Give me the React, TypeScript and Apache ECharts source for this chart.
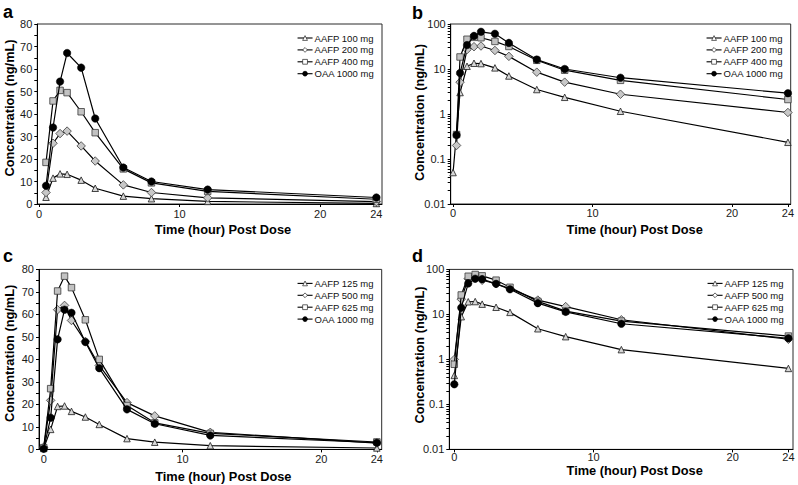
import React, { useEffect, useRef } from 'react';
import * as echarts from 'echarts';

// ---------- Study 1 (panels a & b), hours post dose ----------
const hoursStudy1 = [0.25, 0.5, 1, 1.5, 2, 3, 4, 6, 8, 12, 24];
const hoursAafp100 = [0, 0.5, 1, 1.5, 2, 3, 4, 6, 8, 12, 24];
const aafp100 = [0.05, 3.0, 11.5, 13.4, 13.2, 10.6, 7.0, 3.5, 2.35, 1.15, 0.235];
const aafp200 = [0.2, 5.1, 27, 31.3, 32.4, 25.8, 19.1, 8.5, 5.1, 2.75, 1.08];
const aafp400 = [0.35, 18.5, 45.8, 50.5, 49.5, 41, 31.7, 15.6, 9.4, 5.6, 2.1];
const oaaStudy1 = [0.34, 8.1, 34, 54.4, 67.1, 60.6, 38, 16.2, 10, 6.4, 2.9];

// ---------- Study 2 (panels c & d), hours post dose ----------
const hoursStudy2 = [0, 0.5, 1, 1.5, 2, 3, 4, 6, 8, 12, 24];
const aafp125 = [0.44, 8.9, 19.1, 19.3, 16.9, 14.4, 11.1, 4.8, 3.2, 1.65, 0.63];
const aafp500 = [1.0, 21.8, 62.1, 64, 57.3, 48, 37.3, 20.8, 14.9, 7.6, 2.8];
const aafp625 = [0.78, 27, 70.4, 77, 71.9, 57.6, 40, 19.5, 11.8, 7.1, 3.3];
const oaaStudy2 = [0.28, 14.1, 48.9, 62.1, 60.7, 47.7, 36.1, 17.8, 11.4, 6.2, 2.95];

const namesStudy1 = ['AAFP 100 mg', 'AAFP 200 mg', 'AAFP 400 mg', 'OAA 1000 mg'];
const namesStudy2 = ['AAFP 125 mg', 'AAFP 500 mg', 'AAFP 625 mg', 'OAA 1000 mg'];

const xTickValues = [0, 10, 20, 24];
const linLabelValues = [0, 10, 20, 30, 40, 50, 60, 70, 80];
const linTickValues = [0, 5, 10, 15, 20, 25, 30, 35, 40, 45, 50, 55, 60, 65, 70, 75, 80];
const logLabelValues = [0.01, 0.1, 1, 10, 100];

const panelLetters = ['a', 'b', 'c', 'd'];
const xTitle = 'Time (hour) Post Dose';
const yTitle = 'Concentration (ng/mL)';

const FONT = '"Liberation Sans", Arial, Helvetica, sans-serif';

const logTickValues: number[] = [];
for (let d = -2; d < 2; d++) {
  for (let m = 1; m <= 9; m++) logTickValues.push(Number((m * Math.pow(10, d)).toPrecision(3)));
}
logTickValues.push(100);

const markerStyles = [
  { symbol: 'triangle', symbolSize: 6.5, itemStyle: { color: '#d6d6d6', borderColor: '#1a1a1a', borderWidth: 0.8 } },
  { symbol: 'diamond', symbolSize: 8.5, itemStyle: { color: '#c8c8c8', borderColor: '#3a3a3a', borderWidth: 0.8 } },
  { symbol: 'rect', symbolSize: 6.5, itemStyle: { color: '#c2c2c2', borderColor: '#3a3a3a', borderWidth: 0.8 } },
  { symbol: 'circle', symbolSize: 7.5, itemStyle: { color: '#000000', borderColor: '#000000', borderWidth: 0.5 } },
];

const legendMarkerStyles = [
  { color: '#ffffff', borderColor: '#222222', borderWidth: 0.7 },
  { color: '#ffffff', borderColor: '#222222', borderWidth: 0.7 },
  { color: '#ffffff', borderColor: '#222222', borderWidth: 0.7 },
  { color: '#000000', borderColor: '#000000', borderWidth: 0.7 },
];

type Panel = {
  grid: { left: number; top: number; width: number; height: number };
  xMin: number;
  xMax: number;
  log: boolean;
  names: string[];
  hours: number[][];
  values: number[][];
  skipFirst: boolean;
  labelMargin: number;
  legend: { left: number; top: number };
  letter: { x: number; y: number };
  xTitlePos: { x: number; y: number };
  yTitlePos: { x: number; y: number };
};

const panels: Panel[] = [
  {
    grid: { left: 37.3, top: 24, width: 344.7, height: 180 },
    xMin: -0.12, xMax: 24.4, log: false, names: namesStudy1,
    hours: [hoursAafp100, hoursStudy1, hoursStudy1, hoursStudy1],
    values: [aafp100, aafp200, aafp400, oaaStudy1], skipFirst: true, labelMargin: 4,
    legend: { left: 297, top: 33 }, letter: { x: 3, y: 3 },
    xTitlePos: { x: 223, y: 229 }, yTitlePos: { x: 9.5, y: 108 },
  },
  {
    grid: { left: 450.7, top: 24, width: 340, height: 180 },
    xMin: -0.17, xMax: 24.2, log: true, names: namesStudy1,
    hours: [hoursAafp100, hoursStudy1, hoursStudy1, hoursStudy1],
    values: [aafp100, aafp200, aafp400, oaaStudy1], skipFirst: false, labelMargin: 3,
    legend: { left: 706, top: 33 }, letter: { x: 412, y: 4 },
    xTitlePos: { x: 634.7, y: 229 }, yTitlePos: { x: 419, y: 112.5 },
  },
  {
    grid: { left: 39, top: 269.4, width: 342.7, height: 180 },
    xMin: -0.34, xMax: 24.35, log: false, names: namesStudy2,
    hours: [hoursStudy2, hoursStudy2, hoursStudy2, hoursStudy2],
    values: [aafp125, aafp500, aafp625, oaaStudy2], skipFirst: false, labelMargin: 4,
    legend: { left: 297, top: 278.4 }, letter: { x: 3, y: 247 },
    xTitlePos: { x: 223.3, y: 476 }, yTitlePos: { x: 9.5, y: 353.3 },
  },
  {
    grid: { left: 449.3, top: 269.4, width: 343.7, height: 180 },
    xMin: -0.36, xMax: 24.33, log: true, names: namesStudy2,
    hours: [hoursStudy2, hoursStudy2, hoursStudy2, hoursStudy2],
    values: [aafp125, aafp500, aafp625, oaaStudy2], skipFirst: false, labelMargin: 2.5,
    legend: { left: 707, top: 278.4 }, letter: { x: 412, y: 247 },
    xTitlePos: { x: 634.7, y: 470 }, yTitlePos: { x: 419, y: 355 },
  },
];

function fmtNum(v: number): string {
  return String(Number(Number(v).toPrecision(4)));
}

function buildOption() {
  const grids: any[] = [];
  const xAxes: any[] = [];
  const yAxes: any[] = [];
  const series: any[] = [];
  const legends: any[] = [];
  const graphics: any[] = [];

  panels.forEach((p, i) => {
    grids.push({
      left: p.grid.left, top: p.grid.top, width: p.grid.width, height: p.grid.height,
      show: true, borderColor: '#2a2a2a', borderWidth: 1, backgroundColor: 'transparent',
      containLabel: false, outerBoundsMode: 'none',
    });
    xAxes.push({
      type: 'value', gridIndex: i, min: p.xMin, max: p.xMax,
      axisLine: { show: true, onZero: false, lineStyle: { color: '#000', width: 1 } },
      axisTick: { show: true, inside: false, length: 3, customValues: xTickValues, lineStyle: { color: '#000' } },
      axisLabel: {
        show: true, customValues: xTickValues, margin: p.labelMargin, fontSize: 11, fontFamily: FONT, color: '#1a1a1a',
        formatter: (v: number) => fmtNum(v), showMinLabel: true, showMaxLabel: true, hideOverlap: false,
      },
      splitLine: { show: false },
    });
    if (p.log) {
      yAxes.push({
        type: 'log', logBase: 10, gridIndex: i, min: 0.01, max: 100,
        axisLine: { show: true, onZero: false, lineStyle: { color: '#000', width: 1 } },
        axisTick: { show: true, inside: false, length: 3, customValues: logTickValues, lineStyle: { color: '#000' } },
        axisLabel: {
          show: true, customValues: logLabelValues, margin: 5, fontSize: 11, fontFamily: FONT, color: '#1a1a1a',
          formatter: (v: number) => fmtNum(v), hideOverlap: false,
        },
        splitLine: { show: false },
      });
    } else {
      yAxes.push({
        type: 'value', gridIndex: i, min: 0, max: 80, interval: 10,
        axisLine: { show: true, onZero: false, lineStyle: { color: '#000', width: 1 } },
        axisTick: { show: true, inside: false, length: 3, customValues: linTickValues, lineStyle: { color: '#000' } },
        axisLabel: {
          show: true, customValues: linLabelValues, margin: 5, fontSize: 11, fontFamily: FONT, color: '#1a1a1a',
          formatter: (v: number) => fmtNum(v), hideOverlap: false,
        },
        splitLine: { show: false },
      });
    }
    p.names.forEach((name, k) => {
      const hrs = p.hours[k];
      const vals = p.values[k];
      const start = p.skipFirst ? 1 : 0;
      const data: number[][] = [];
      for (let j = start; j < vals.length; j++) data.push([hrs[j], vals[j]]);
      const ms = markerStyles[k];
      series.push({
        type: 'line', name, xAxisIndex: i, yAxisIndex: i, data,
        symbol: ms.symbol, symbolSize: ms.symbolSize, showSymbol: true,
        itemStyle: ms.itemStyle,
        lineStyle: { color: '#000', width: 1.2 },
        color: ms.itemStyle.color,
        emphasis: { disabled: true }, silent: true, z: 2 + k,
      });
    });
    legends.push({
      data: p.names.map((name, k) => ({ name, itemStyle: legendMarkerStyles[k] })),
      orient: 'vertical', left: p.legend.left, top: p.legend.top,
      itemWidth: 15, itemHeight: 6, itemGap: 1.9, padding: 0, selectedMode: false,
      lineStyle: { color: '#000', width: 1.1 },
      textStyle: { fontSize: 9.5, fontFamily: FONT, color: '#111', padding: [0, 0, 0, -3] },
    });
    graphics.push({
      type: 'text', x: p.letter.x, y: p.letter.y,
      style: { text: panelLetters[i], font: `bold 18px ${FONT}`, fill: '#000', align: 'left', verticalAlign: 'top' },
    });
    graphics.push({
      type: 'text', x: p.xTitlePos.x, y: p.xTitlePos.y,
      style: { text: xTitle, font: `bold 12.8px ${FONT}`, fill: '#000', align: 'center', verticalAlign: 'middle' },
    });
    graphics.push({
      type: 'text', x: p.yTitlePos.x, y: p.yTitlePos.y, rotation: Math.PI / 2,
      style: { text: yTitle, font: `bold 12.8px ${FONT}`, fill: '#000', align: 'center', verticalAlign: 'middle' },
    });
  });

  return {
    animation: false,
    backgroundColor: '#ffffff',
    grid: grids,
    xAxis: xAxes,
    yAxis: yAxes,
    series,
    legend: legends,
    graphic: graphics,
  };
}

export default function App() {
  const ref = useRef<HTMLDivElement>(null);
  useEffect(() => {
    if (!ref.current) return;
    const chart = echarts.init(ref.current, undefined, { renderer: 'svg' });
    chart.setOption(buildOption() as any);
    return () => chart.dispose();
  }, []);
  return (
    <div
      ref={ref}
      style={{ position: 'fixed', left: 0, top: 0, width: 798, height: 485, background: '#fff' }}
    />
  );
}
